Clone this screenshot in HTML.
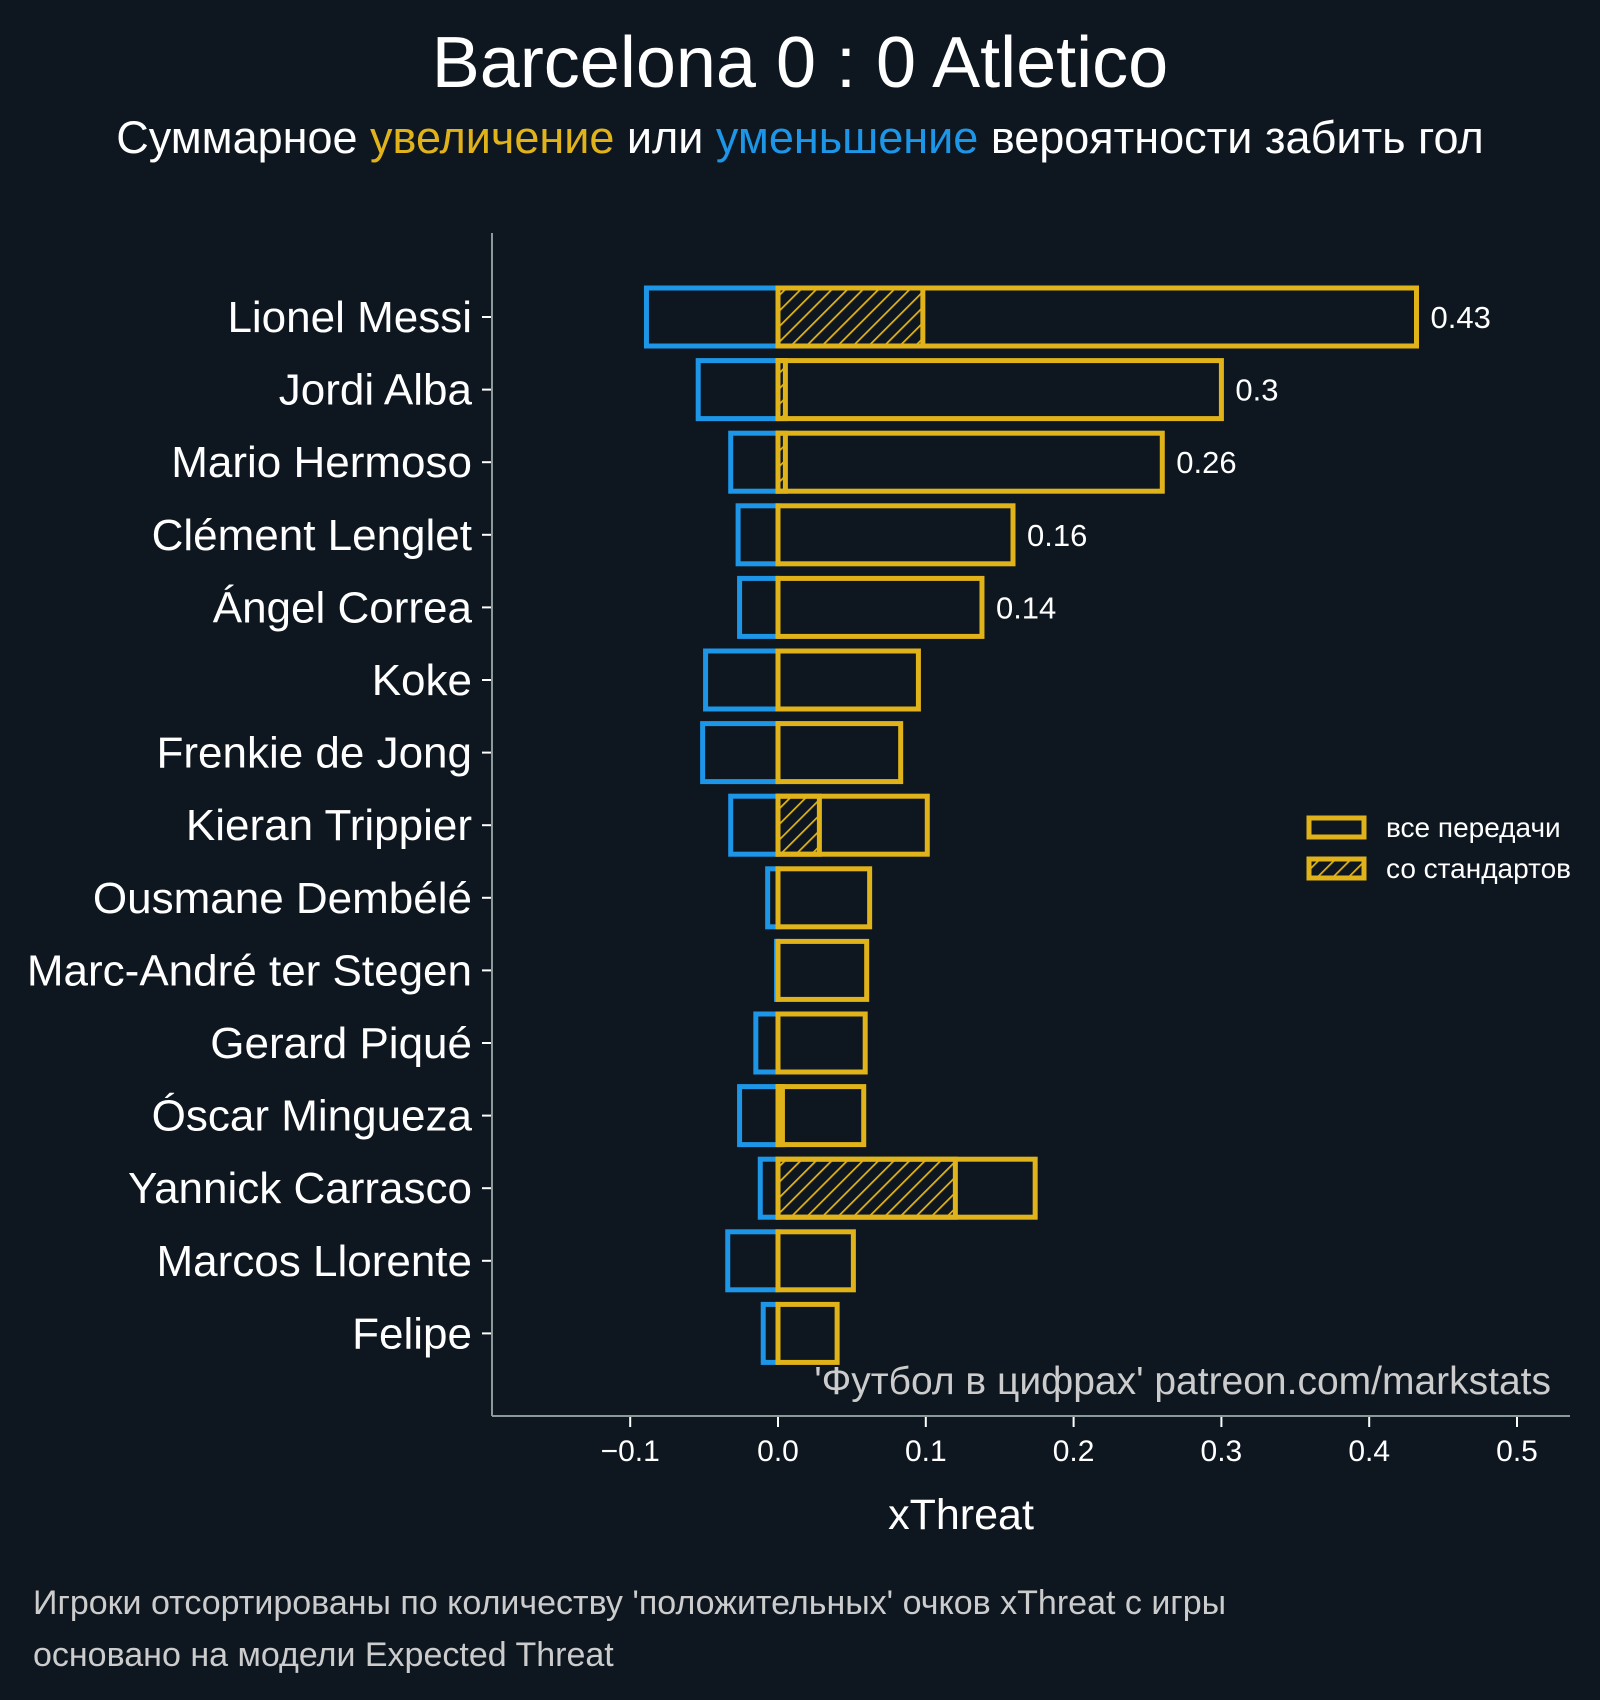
<!DOCTYPE html>
<html><head><meta charset="utf-8"><style>
html,body{margin:0;padding:0;background:#0e1720;}
svg{display:block;font-family:"Liberation Sans","DejaVu Sans",sans-serif;}
</style></head><body>
<svg id="chart" width="1600" height="1700" viewBox="0 0 1600 1700" xmlns="http://www.w3.org/2000/svg">
<defs>
<pattern id="hatch" patternUnits="userSpaceOnUse" width="11" height="11" patternTransform="rotate(45)">
<line x1="0" y1="0" x2="0" y2="11" stroke="#e1b31a" stroke-width="3.5"/>
</pattern>
</defs>
<rect width="1600" height="1700" fill="#0e1720"/>
<text x="800" y="87" text-anchor="middle" fill="#fff" font-size="72">Barcelona 0 : 0 Atletico</text>
<text x="800" y="153" text-anchor="middle" fill="#fff" font-size="45">Суммарное <tspan fill="#e1b31a">увеличение</tspan> или <tspan fill="#1d96e8">уменьшение</tspan> вероятности забить гол</text>
<g id="bars"></g>
<g id="axes"></g>
<text x="1551" y="1394" text-anchor="end" fill="#cccccc" font-size="39">'Футбол в цифрах' patreon.com/markstats</text>
<text x="961" y="1529" text-anchor="middle" fill="#fff" font-size="43">xThreat</text>
<g>
<rect x="1309" y="818" width="55" height="19" fill="none" stroke="#e1b31a" stroke-width="5"/>
<text x="1386" y="837" fill="#fff" font-size="28">все передачи</text>
<rect x="1309" y="859" width="55" height="19" fill="url(#hatch)" stroke="#e1b31a" stroke-width="5"/>
<text x="1386" y="878" fill="#fff" font-size="28">со стандартов</text>
</g>
<text x="33" y="1614" fill="#cccccc" font-size="34">Игроки отсортированы по количеству 'положительных' очков xThreat с игры</text>
<text x="33" y="1666" fill="#cccccc" font-size="34">основано на модели Expected Threat</text>
</svg>
<script>
const players = ["Lionel Messi","Jordi Alba","Mario Hermoso","Clément Lenglet","Ángel Correa","Koke","Frenkie de Jong","Kieran Trippier","Ousmane Dembélé","Marc-André ter Stegen","Gerard Piqué","Óscar Mingueza","Yannick Carrasco","Marcos Llorente","Felipe"];
const positive = [0.432,0.30,0.26,0.159,0.138,0.095,0.083,0.101,0.062,0.060,0.059,0.058,0.174,0.051,0.040];
const negative = [-0.089,-0.054,-0.032,-0.027,-0.026,-0.049,-0.051,-0.032,-0.007,-0.001,-0.015,-0.026,-0.012,-0.034,-0.010];
const setpiece = [0.098,0.005,0.005,0,0,0,0,0.028,0,0,0,0.003,0.12,0,0];
const valueLabels = ["0.43","0.3","0.26","0.16","0.14","","","","","","","","","",""];
const xTicks = [-0.1,0.0,0.1,0.2,0.3,0.4,0.5];
const xTickLabels = ["−0.1","0.0","0.1","0.2","0.3","0.4","0.5"];

const NS="http://www.w3.org/2000/svg";
const X0=778, XS=1478, Y0=317, YS=72.6, BH=58;
const x=v=>X0+v*XS;
const y=i=>Y0+i*YS;
function mk(tag,attrs,parent){const e=document.createElementNS(NS,tag);for(const k in attrs)e.setAttribute(k,attrs[k]);parent.appendChild(e);return e;}
const bars=document.getElementById('bars'), axes=document.getElementById('axes');
players.forEach((p,i)=>{
  const top=y(i)-BH/2;
  const nb=mk('rect',{x:x(negative[i]),y:top,width:x(0)-x(negative[i]),height:BH,fill:'none',stroke:'#1d96e8','stroke-width':5},bars);
  
  
  if(setpiece[i]>0){
    const sb=mk('rect',{x:x(0),y:top,width:x(setpiece[i])-x(0),height:BH,fill:'url(#hatch)',stroke:'#e1b31a','stroke-width':5},bars);
    
    
  }
  const pb=mk('rect',{x:x(0),y:top,width:x(positive[i])-x(0),height:BH,fill:'none',stroke:'#e1b31a','stroke-width':5},bars);
  
  
  if(valueLabels[i]){
    const vl=mk('text',{x:x(positive[i])+14,y:y(i)+11,fill:'#fff','font-size':31},bars);
    vl.textContent=valueLabels[i];
    
    
  }
  const t=mk('line',{x1:482,x2:492,y1:y(i),y2:y(i),stroke:'#fff','stroke-width':2},axes);
  
  
  const lb=mk('text',{x:472,y:y(i)+15,'text-anchor':'end',fill:'#fff','font-size':44},axes);
  lb.textContent=p;
  
  
});
const ys=mk('line',{x1:492,x2:492,y1:233,y2:1416,stroke:'#8a9a9a','stroke-width':2},axes);


const xs=mk('line',{x1:492,x2:1570,y1:1416,y2:1416,stroke:'#8a9a9a','stroke-width':2},axes);


xTicks.forEach((v,i)=>{
  const t=mk('line',{x1:x(v),x2:x(v),y1:1417,y2:1427,stroke:'#fff','stroke-width':2},axes);
  
  
  const l=mk('text',{x:x(v),y:1461,'text-anchor':'middle',fill:'#fff','font-size':30},axes);
  l.textContent=xTickLabels[i];
  
  
});
</script>
</body></html>
